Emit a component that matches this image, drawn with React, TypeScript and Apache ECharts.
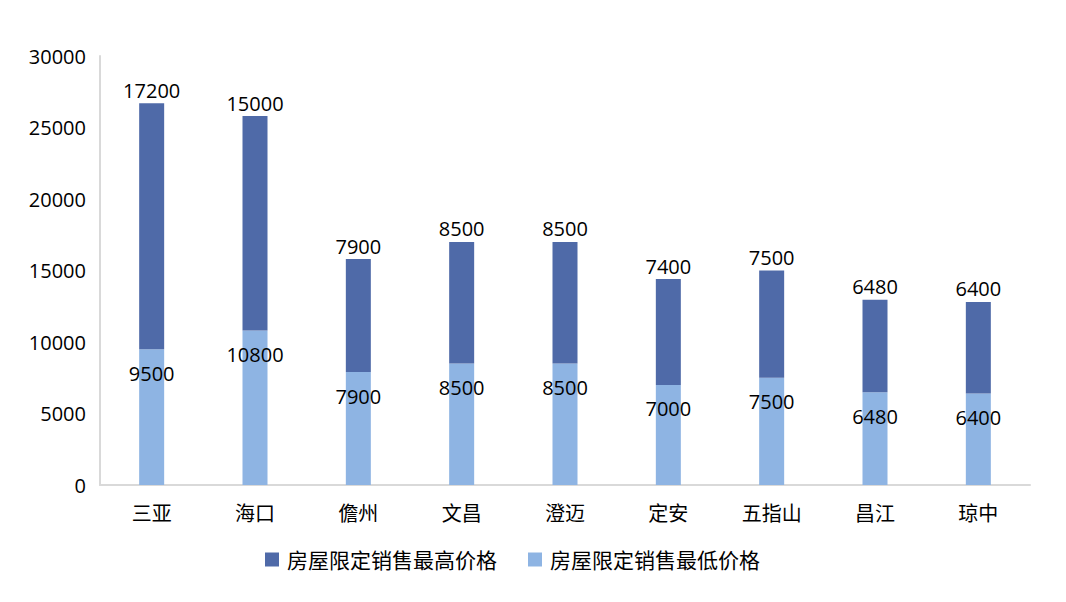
import React, { useEffect, useRef } from "react";
import * as echarts from "echarts";

const categories = ["三亚", "海口", "儋州", "文昌", "澄迈", "定安", "五指山", "昌江", "琼中"];
const lowPrices = [9500, 10800, 7900, 8500, 8500, 7000, 7500, 6480, 6400];
const highPrices = [17200, 15000, 7900, 8500, 8500, 7400, 7500, 6480, 6400];
const seriesNames = ["房屋限定销售最高价格", "房屋限定销售最低价格"];

const FONT = "'Open Sans', 'Noto Sans CJK SC', sans-serif";

export default function App() {
  const ref = useRef<HTMLDivElement>(null);
  useEffect(() => {
    if (!ref.current) return;
    const chart = echarts.init(ref.current, undefined, { renderer: "svg" });
    chart.setOption({
      animation: false,
      backgroundColor: "#ffffff",
      textStyle: { fontFamily: FONT },
      grid: { left: 100, right: 36, top: 56, bottom: 117, containLabel: false },
      legend: {
        bottom: 27,
        left: 260,
        itemWidth: 14,
        itemHeight: 14,
        itemGap: 31,
        icon: "rect",
        data: [seriesNames[0], seriesNames[1]],
        textStyle: { fontSize: 21, color: "#000", fontFamily: FONT, padding: [0, 0, 0, 3] },
      },
      xAxis: {
        type: "category",
        data: categories,
        axisLine: { lineStyle: { color: "#D9D9D9", width: 2 } },
        axisTick: { show: false },
        axisLabel: { fontSize: 20, color: "#000", margin: 18, fontFamily: FONT },
      },
      yAxis: {
        type: "value",
        min: 0,
        max: 30000,
        interval: 5000,
        axisLine: { show: true, lineStyle: { color: "#D9D9D9", width: 2 } },
        axisTick: { show: false },
        splitLine: { show: false },
        axisLabel: {
          fontSize: 20,
          color: "#000",
          margin: 14,
          fontFamily: FONT,
          formatter: (v: number) => String(v),
        },
      },
      series: [
        {
          name: seriesNames[1],
          type: "bar",
          stack: "total",
          data: lowPrices,
          barWidth: 25,
          itemStyle: { color: "#8EB4E3" },
          label: {
            show: true,
            position: "insideTop",
            distance: 14,
            fontSize: 20,
            color: "#000",
            fontFamily: FONT,
          },
        },
        {
          name: seriesNames[0],
          type: "bar",
          stack: "total",
          data: highPrices,
          barWidth: 25,
          itemStyle: { color: "#4F6AA8" },
          label: {
            show: true,
            position: "top",
            distance: 3,
            fontSize: 20,
            color: "#000",
            fontFamily: FONT,
          },
        },
      ],
    });
    return () => chart.dispose();
  }, []);
  return (
    <div
      ref={ref}
      style={{ position: "fixed", left: 0, top: 0, width: 1066, height: 602, background: "#fff" }}
    />
  );
}
